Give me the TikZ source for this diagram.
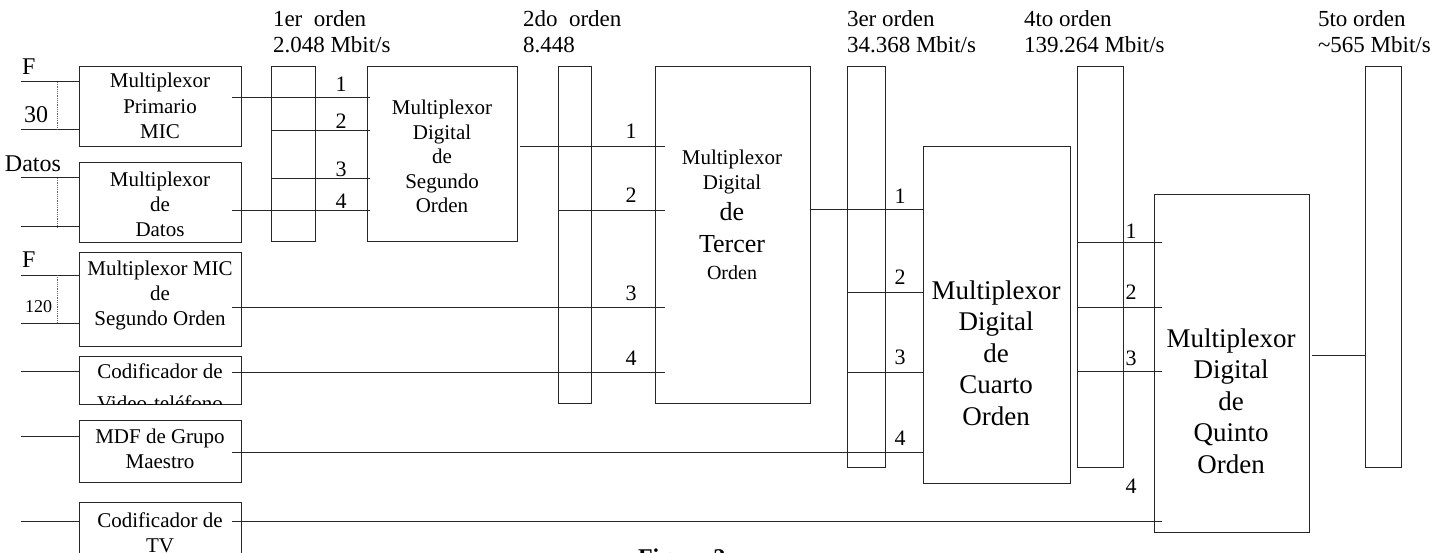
\documentclass[tikz,border=0pt]{standalone}
\usepackage{fontspec}
\setmainfont{Liberation Serif}
\newcommand\mlines[1]{\begin{tabular}[t]{@{}c@{}}#1\end{tabular}}
\newcommand\fsz[2]{\fontsize{#1}{#2}\selectfont}
\begin{document}
\begin{tikzpicture}[x=1pt,y=-1pt,
  ln/.style={draw=black!85, line width=1pt},
  dotln/.style={draw=black!60, line width=0.8pt, densely dotted},
  box/.style={draw=black!85, line width=1pt, inner sep=0pt, outer sep=0pt, anchor=north west},
  txt/.style={inner sep=0pt, outer sep=0pt},
  lab/.style={txt, font=\fsz{23}{26}, anchor=base west},
  num/.style={txt, font=\fsz{22}{24}, anchor=base},
  btxt/.style={txt, font=\fsz{21}{25}, anchor=base}]
\clip (0,0) rectangle (1447,553);
\fill[white] (0,0) rectangle (1447,553);

% top labels
\node[lab] (t1a) at (273,27) {1er\ \ orden};
\node[lab] (t1b) at (273,53) {2.048 Mbit/s};
\node[lab] (t2a) at (523,27) {2do\ \ orden};
\node[lab] (t2b) at (523,53) {8.448};
\node[lab] (t3a) at (847,27) {3er orden};
\node[lab] (t3b) at (847,53) {34.368 Mbit/s};
\node[lab] (t4a) at (1024,27) {4to orden};
\node[lab] (t4b) at (1024,53) {139.264 Mbit/s};
\node[lab] (t5a) at (1318,27) {5to orden};
\node[lab] (t5b) at (1318,53) {\textasciitilde565 Mbit/s};

% left boxes
\node[box, minimum width=162pt, minimum height=80pt] (A) at (79,67) {};
\node[box, minimum width=162pt, minimum height=80pt] (B) at (79,163) {};
\node[box, minimum width=162pt, minimum height=93pt] (C) at (79,253) {};
\node[box, minimum width=162pt, minimum height=48pt] (D) at (79,356) {};
\node[box, minimum width=162pt, minimum height=62pt] (E) at (79,420) {};
\node[box, minimum width=162pt, minimum height=100pt] (F) at (79,502) {};

% multiplexers
\node[box, minimum width=150pt, minimum height=175pt] (G) at (367,67) {};
\node[box, minimum width=155pt, minimum height=336pt] (H) at (655,67) {};
\node[box, minimum width=147pt, minimum height=336pt] (I) at (923,147) {};
\node[box, minimum width=155pt, minimum height=337pt] (J) at (1154,195) {};

% bars
\node[box, minimum width=44pt, minimum height=175pt] (bar1) at (271,67) {};
\node[box, minimum width=33pt, minimum height=336pt] (bar2) at (558,67) {};
\node[box, minimum width=38pt, minimum height=400pt] (bar3) at (847,67) {};
\node[box, minimum width=46pt, minimum height=400pt] (bar4) at (1077,67) {};
\node[box, minimum width=36pt, minimum height=400pt] (bar5) at (1365,67) {};

% box texts
\node[btxt, font=\fsz{21}{25.5}] (At) at (160,88) {\mlines{Multiplexor\\Primario\\MIC}};
\node[btxt] (Bt) at (160,187) {\mlines{Multiplexor\\de\\Datos}};
\node[btxt, font=\fsz{21}{25.5}] (Ct) at (160,275) {\mlines{Multiplexor MIC\\de\\Segundo Orden}};
\begin{scope}
\clip (D.south west) rectangle (D.north east);
\node[btxt, font=\fsz{21}{32}] (Dt) at (160,378) {\mlines{Codificador de\\Video-teléfono}};
\end{scope}
\node[btxt] (Et) at (160,443) {\mlines{MDF de Grupo\\Maestro}};
\node[btxt] (Ft) at (160,527) {\mlines{Codificador de\\TV}};
\node[btxt, font=\fsz{21}{24.5}] (Gt) at (442,115) {\mlines{Multiplexor\\Digital\\de\\Segundo\\Orden}};
\node[btxt] (Ht1) at (732,165) {Multiplexor};
\node[btxt] (Ht2) at (732,190) {Digital};
\node[btxt, font=\fsz{26}{28}] (Ht3) at (732,221) {de};
\node[btxt, font=\fsz{26}{28}] (Ht4) at (732,252) {Tercer};
\node[btxt, font=\fsz{20}{22}] (Ht5) at (732,279) {Orden};
\node[btxt, font=\fsz{27}{31.5}] (It) at (996,299) {\mlines{Multiplexor\\Digital\\de\\Cuarto\\Orden}};
\node[btxt, font=\fsz{27}{31.5}] (Jt) at (1231,347) {\mlines{Multiplexor\\Digital\\de\\Quinto\\Orden}};

% left inputs
\node[lab, font=\fsz{24}{26}] (lF1) at (22,75) {F};
\node[lab, font=\fsz{24}{26}] (l30) at (24,123) {30};
\node[lab, font=\fsz{24}{26}] (lDat) at (5,172) {Datos};
\node[lab, font=\fsz{24}{26}] (lF2) at (22,267) {F};
\node[lab, font=\fsz{18}{20}] (l120) at (25,312) {120};
\draw[ln] (A.west |- 0,82) -- ++(-58,0);
\draw[ln] (A.west |- 0,130) -- ++(-58,0);
\draw[dotln] ([xshift=-22pt]A.west |- 0,82) -- ([xshift=-22pt]A.west |- 0,130);
\draw[ln] (B.west |- 0,178) -- ++(-58,0);
\draw[ln] (B.west |- 0,227) -- ++(-58,0);
\draw[dotln] ([xshift=-22pt]B.west |- 0,178) -- ([xshift=-22pt]B.west |- 0,227);
\draw[ln] (C.west |- 0,275) -- ++(-58,0);
\draw[ln] (C.west |- 0,323) -- ++(-58,0);
\draw[dotln] ([xshift=-22pt]C.west |- 0,275) -- ([xshift=-22pt]C.west |- 0,323);
\draw[ln] (D.west |- 0,371) -- ++(-58,0);
\draw[ln] (E.west |- 0,436) -- ++(-58,0);
\draw[ln] (F.west |- 0,521) -- ++(-58,0);

% into G
\draw[ln] ([xshift=-9pt]A.east |- 0,98) -- ([xshift=3pt]G.west |- 0,98);
\draw[ln] (bar1.west |- 0,131) -- ([xshift=3pt]G.west |- 0,131);
\draw[ln] (bar1.west |- 0,179) -- ([xshift=3pt]G.west |- 0,179);
\draw[ln] ([xshift=-9pt]B.east |- 0,211) -- ([xshift=3pt]G.west |- 0,211);
\node[num] (n11) at (341,92) {1};
\node[num] (n12) at (341,129) {2};
\node[num] (n13) at (341,177) {3};
\node[num] (n14) at (341,209) {4};

% into H
\draw[ln] ([xshift=3pt]G.east |- 0,147) -- ([xshift=10pt]H.west |- 0,147);
\draw[ln] (bar2.west |- 0,211) -- ([xshift=10pt]H.west |- 0,211);
\draw[ln] ([xshift=-9pt]C.east |- 0,307) -- ([xshift=10pt]H.west |- 0,307);
\draw[ln] ([xshift=-9pt]D.east |- 0,372) -- ([xshift=10pt]H.west |- 0,372);
\node[num] (n21) at (631,139) {1};
\node[num] (n22) at (631,203) {2};
\node[num] (n23) at (631,300) {3};
\node[num] (n24) at (631,365) {4};

% into I
\draw[ln] (H.east |- 0,210) -- (I.west |- 0,210);
\draw[ln] (bar3.west |- 0,292) -- (I.west |- 0,292);
\draw[ln] (bar3.west |- 0,372) -- (I.west |- 0,372);
\draw[ln] ([xshift=-9pt]E.east |- 0,452) -- (I.west |- 0,452);
\node[num] (n31) at (900,204) {1};
\node[num] (n32) at (900,284) {2};
\node[num] (n33) at (900,364) {3};
\node[num] (n34) at (900,445) {4};

% into J
\draw[ln] (bar4.west |- 0,243) -- ([xshift=8pt]J.west |- 0,243);
\draw[ln] (bar4.west |- 0,307) -- ([xshift=8pt]J.west |- 0,307);
\draw[ln] (bar4.west |- 0,371) -- ([xshift=8pt]J.west |- 0,371);
\draw[ln] ([xshift=-9pt]F.east |- 0,521) -- ([xshift=8pt]J.west |- 0,521);
\node[num] (n41) at (1131,239) {1};
\node[num] (n42) at (1131,299) {2};
\node[num] (n43) at (1131,365) {3};
\node[num] (n44) at (1131,493) {4};

% out of J
\draw[ln] ([xshift=3pt]J.east |- 0,355) -- (bar5.west |- 0,355);

% caption
\node[txt, font=\bfseries\fsz{24}{26}, anchor=base west] (cap) at (638,565) {Figura 2};
\end{tikzpicture}
\end{document}
